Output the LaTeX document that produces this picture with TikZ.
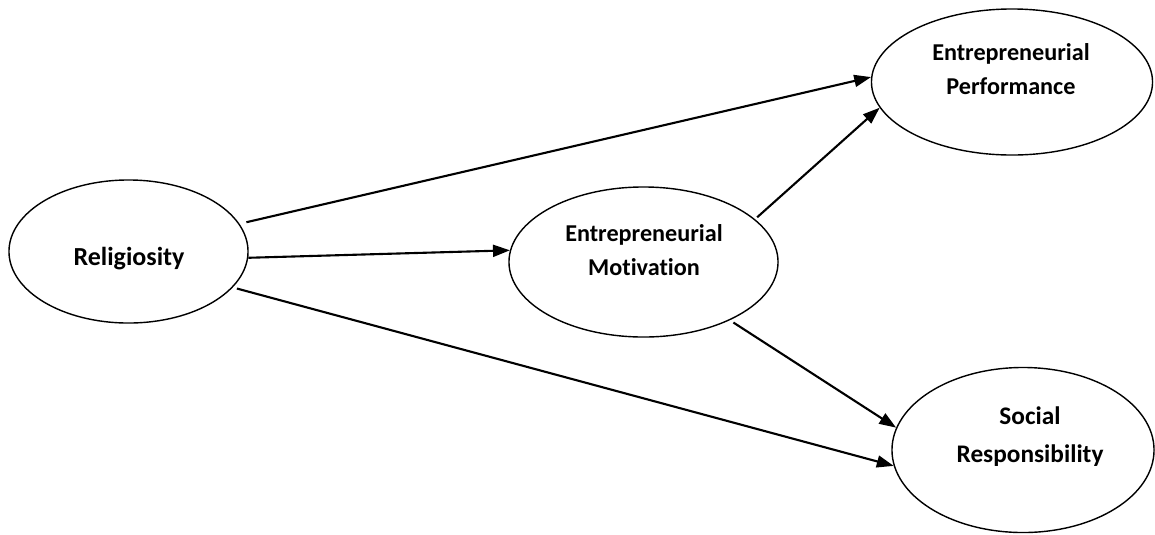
\documentclass[tikz,border=0pt]{standalone}
\usepackage{fontspec}
\setmainfont{Carlito}[Ligatures=NoCommon]
\usepackage{tikz}
\usetikzlibrary{arrows.meta, shapes.geometric}

\tikzset{
  construct/.style={ellipse, draw, line width=1pt, inner sep=0pt},
  lbl/.style={font=\bfseries\fontsize{17.2}{24}\selectfont, align=center, inner sep=0pt},
  link/.style={-{Triangle[length=12pt, width=8.5pt]}, line width=1.5pt},
}

\begin{document}
\begin{tikzpicture}[x=0.025cm, y=-0.025cm]
  \useasboundingbox (0,0) rectangle (1155,534);
  % 变量椭圆
  \node[construct, minimum width=5.975cm, minimum height=3.575cm] (rel) at (128.5,251.5) {};
  \node[construct, minimum width=6.725cm, minimum height=3.75cm] (mot) at (643.5,262) {};
  \node[construct, minimum width=7.025cm, minimum height=3.65cm] (perf) at (1012,82) {};
  \node[construct, minimum width=6.55cm, minimum height=4.125cm] (soc) at (1023,450) {};
  % 文字
  \node[lbl, font=\bfseries\fontsize{18.5}{24}\selectfont] (rellbl) at (129,259) {Religiosity};
  \node[lbl] (motlbl) at (644,250) {Entrepreneurial\\Motivation};
  \node[lbl] (perflbl) at (1011,69) {Entrepreneurial\\Performance};
  \node[lbl, font=\bfseries\fontsize{18}{27}\selectfont] (soclbl) at (1030,437) {Social\\Responsibility};
  % 路径箭头
  \draw[link, shorten <=5pt] (rel.14) -- (perf.178);
  \draw[link] (rel.-3) -- (mot.175);
  \draw[link, shorten <=3pt] (rel.-19) -- (soc.187);
  \draw[link, shorten <=2pt] (mot.21) -- (perf.-169);
  \draw[link, shorten <=3pt] (mot.-34) -- (soc.170);
\end{tikzpicture}
\end{document}
